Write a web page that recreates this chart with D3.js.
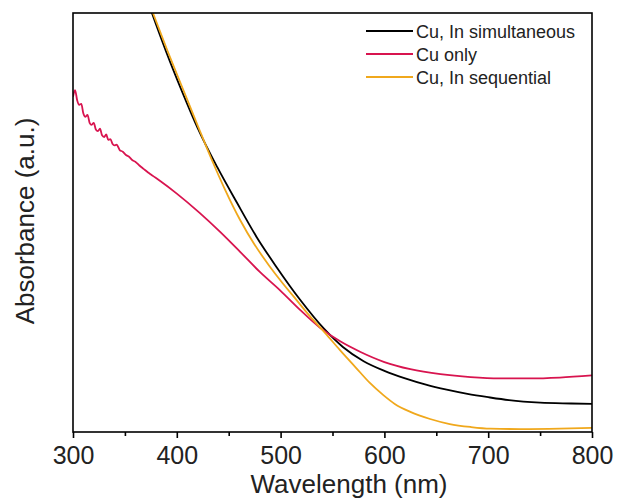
<!DOCTYPE html>
<html>
<head>
<meta charset="utf-8">
<script src="https://cdn.jsdelivr.net/npm/d3@7"></script>
<style>
  body { margin: 0; background: #fff; }
  svg { display: block; font-family: "Liberation Sans", Arial, sans-serif; }
</style>
</head>
<body>
<div id="plot"></div>
<script>
// wavelength (nm) / absorbance (a.u.)
const simWl = [370, 376, 390, 405, 420, 439, 458, 477, 496, 519, 542, 560, 580, 600, 620, 640, 660, 680, 700, 720, 750, 780, 800];
const simAbs = [1.042, 1.000, 0.906, 0.813, 0.726, 0.632, 0.547, 0.465, 0.394, 0.315, 0.246, 0.203, 0.169, 0.146, 0.128, 0.113, 0.101, 0.091, 0.083, 0.076, 0.070, 0.068, 0.067];

const cuWl = [300, 302, 304, 306, 308, 310, 312, 314, 316, 318, 320, 322, 324, 326, 328, 330, 332, 334, 336, 338, 340, 342, 345, 348, 351, 354, 357, 360, 364, 368, 372, 376, 380, 384, 400, 422, 442, 461, 480, 500, 519, 538, 557, 577, 600, 625, 654, 683, 711, 740, 769, 800];
const cuAbs = [0.800, 0.816, 0.792, 0.781, 0.783, 0.760, 0.752, 0.757, 0.738, 0.733, 0.738, 0.722, 0.718, 0.724, 0.708, 0.704, 0.710, 0.697, 0.699, 0.688, 0.684, 0.686, 0.673, 0.669, 0.661, 0.657, 0.649, 0.645, 0.636, 0.628, 0.620, 0.613, 0.606, 0.599, 0.569, 0.523, 0.477, 0.430, 0.382, 0.337, 0.291, 0.249, 0.217, 0.191, 0.167, 0.150, 0.138, 0.131, 0.128, 0.128, 0.130, 0.135];

const seqWl = [371, 377, 391, 406, 421, 434, 446, 461, 475, 489, 502, 515, 528, 543, 557, 572, 586, 599, 610, 625, 644, 663, 683, 702, 731, 769, 800];
const seqAbs = [1.040, 1.000, 0.910, 0.818, 0.726, 0.648, 0.581, 0.506, 0.447, 0.397, 0.355, 0.316, 0.277, 0.236, 0.196, 0.155, 0.117, 0.088, 0.067, 0.048, 0.031, 0.019, 0.012, 0.008, 0.007, 0.008, 0.010];

const seriesNames = ["Cu, In simultaneous", "Cu only", "Cu, In sequential"];
const seriesColors = ["#000000", "#d8144f", "#f0a81c"];
const xTicks = [300, 400, 500, 600, 700, 800];
const xMinorTicks = [350, 450, 550, 650, 750];

const width = 618, height = 501;
const margin = { top: 13, right: 26, bottom: 69, left: 73 };

const series = [
  { name: seriesNames[0], wl: simWl, abs: simAbs, color: seriesColors[0] },
  { name: seriesNames[1], wl: cuWl, abs: cuAbs, color: seriesColors[1] },
  { name: seriesNames[2], wl: seqWl, abs: seqAbs, color: seriesColors[2] }
];

let svg = d3.select('#plot')
  .append('svg')
    .attr('width', width)
    .attr('height', height);

let xScale = d3.scaleLinear()
  .domain([300, 800])
  .range([margin.left, width - margin.right]);

let yScale = d3.scaleLinear()
  .domain([0, 1])
  .range([height - margin.bottom, margin.top]);

svg.append('clipPath')
    .attr('id', 'clip')
  .append('rect')
    .attr('x', margin.left)
    .attr('y', margin.top)
    .attr('width', width - margin.left - margin.right)
    .attr('height', height - margin.top - margin.bottom);

let line = d3.line()
  .x(d => xScale(d[0]))
  .y(d => yScale(d[1]))
  .curve(d3.curveMonotoneX);

// drawn in legend order, sequential ends up on top
series.forEach(s => {
  svg.append('path')
    .datum(s.wl.map((w, i) => [w, s.abs[i]]))
    .attr('clip-path', 'url(#clip)')
    .attr('fill', 'none')
    .attr('stroke', s.color)
    .attr('stroke-width', 1.8)
    .attr('stroke-linejoin', 'round')
    .attr('d', line);
});

// frame
svg.append('rect')
  .attr('x', margin.left)
  .attr('y', margin.top)
  .attr('width', width - margin.left - margin.right)
  .attr('height', height - margin.top - margin.bottom)
  .attr('fill', 'none')
  .attr('stroke', '#000')
  .attr('stroke-width', 1.6);

// bottom axis: minor ticks, then major ticks with labels
let xAxisMinor = svg.append('g')
  .attr('transform', `translate(0,${height - margin.bottom})`)
  .call(d3.axisBottom(xScale).tickValues(xMinorTicks).tickSize(4).tickFormat(''));

let xAxis = svg.append('g')
  .attr('transform', `translate(0,${height - margin.bottom})`)
  .call(d3.axisBottom(xScale).tickValues(xTicks).tickSize(6).tickPadding(8).tickFormat(d3.format('d')));

[xAxisMinor, xAxis].forEach(g => {
  g.select('.domain').remove();
  g.selectAll('line').attr('stroke', '#000').attr('stroke-width', 1.6);
});
xAxis.selectAll('text')
  .attr('font-size', '25px')
  .attr('font-family', '"Liberation Sans", Arial, sans-serif')
  .attr('fill', '#222');

// axis titles
svg.append('text')
  .attr('x', 349)
  .attr('y', 493)
  .attr('text-anchor', 'middle')
  .attr('font-size', '26px')
  .attr('fill', '#222')
  .text('Wavelength (nm)');

svg.append('text')
  .attr('transform', 'translate(34,221) rotate(-90)')
  .attr('text-anchor', 'middle')
  .attr('font-size', '26px')
  .attr('fill', '#222')
  .text('Absorbance (a.u.)');

// legend
let legend = svg.append('g');
series.forEach((s, i) => {
  let yb = 38 + i * 23;
  legend.append('line')
    .attr('x1', 366).attr('x2', 413)
    .attr('y1', yb - 7).attr('y2', yb - 7)
    .attr('stroke', s.color)
    .attr('stroke-width', 2);
  legend.append('text')
    .attr('x', 416)
    .attr('y', yb)
    .attr('font-size', '18px')
    .attr('fill', '#222')
    .text(s.name);
});
</script>
</body>
</html>
